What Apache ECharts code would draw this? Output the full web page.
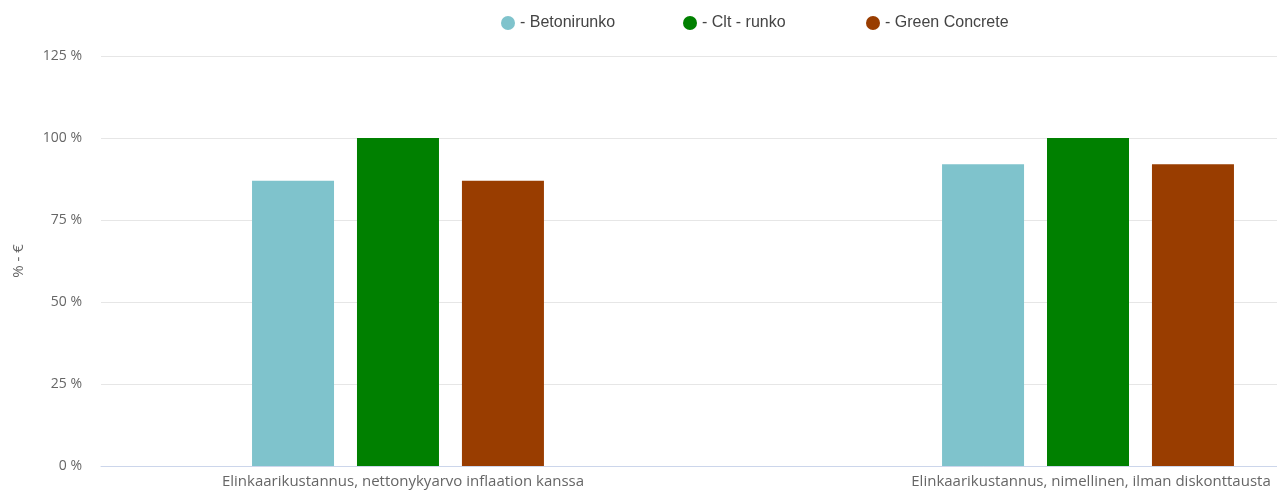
<!DOCTYPE html>
<html>
<head>
<meta charset="utf-8">
<script src="https://cdn.jsdelivr.net/npm/echarts@6/dist/echarts.min.js"></script>
<style>html,body{margin:0;padding:0;background:#fff}#c{width:1277px;height:490px}</style>
</head>
<body>
<div id="c"></div>
<script>
const categories = ['Elinkaarikustannus, nettonykyarvo inflaation kanssa', 'Elinkaarikustannus, nimellinen, ilman diskonttausta'];
const seriesNames = ['- Betonirunko', '- Clt - runko', '- Green Concrete'];
const betoni = [87, 92];
const clt = [100, 100];
const green = [87, 92];
const yTicks = [0, 25, 50, 75, 100, 125];
const yName = '% - €';

const colors = ['#7fc3cc', '#008000', '#993d00'];
const catIdx = categories.map((c, i) => i);
const toPairs = arr => arr.map((v, i) => [catIdx[i], v]);
const chart = echarts.init(document.getElementById('c'));
const font = '"Open Sans", sans-serif';
const legendLefts = [501, 683, 866];
chart.setOption({
  animation: false,
  legend: seriesNames.map((n, i) => ({
    top: 15, left: legendLefts[i], padding: 0, icon: 'circle', itemWidth: 14, itemHeight: 14,
    textStyle: { fontFamily: 'Liberation Sans, Arial, sans-serif', fontSize: 16, color: '#444' },
    data: [n]
  })),
  grid: { left: 101, right: 0, top: 56, bottom: 24 },
  xAxis: {
    type: 'value', min: -0.4304, max: 1.2739,
    splitLine: { show: false },
    axisLine: { show: true, onZero: false, lineStyle: { color: '#ccd6eb', width: 1 } },
    axisTick: { show: false },
    axisLabel: {
      customValues: catIdx, margin: 8, fontFamily: font, fontSize: 15, color: '#666',
      formatter: v => v === 0 ? '{a|' + categories[0] + '}' : '{b|' + categories[v] + '}',
      rich: {
        a: { fontFamily: font, fontSize: 15, color: '#666', padding: [0, 0, 0, 10] },
        b: { fontFamily: font, fontSize: 15, color: '#666', padding: [0, 0, 0, 6] }
      }
    }
  },
  yAxis: {
    type: 'value', min: yTicks[0], max: yTicks[yTicks.length - 1], interval: 25,
    name: yName, nameLocation: 'middle', nameGap: 75, nameRotate: 90,
    nameTextStyle: { fontFamily: font, fontSize: 15, color: '#666' },
    axisLine: { show: false }, axisTick: { show: false },
    axisLabel: { margin: 19, fontFamily: font, fontSize: 14, color: '#666', formatter: v => v + ' %' },
    splitLine: { lineStyle: { color: '#e6e6e6', width: 1 } }
  },
  series: [
    { name: seriesNames[0], type: 'bar', data: toPairs(betoni), barWidth: 82, barGap: '28%', itemStyle: { color: colors[0] } },
    { name: seriesNames[1], type: 'bar', data: toPairs(clt), barWidth: 82, barGap: '28%', itemStyle: { color: colors[1] } },
    { name: seriesNames[2], type: 'bar', data: toPairs(green), barWidth: 82, barGap: '28%', itemStyle: { color: colors[2] } }
  ]
});
</script>
</body>
</html>
